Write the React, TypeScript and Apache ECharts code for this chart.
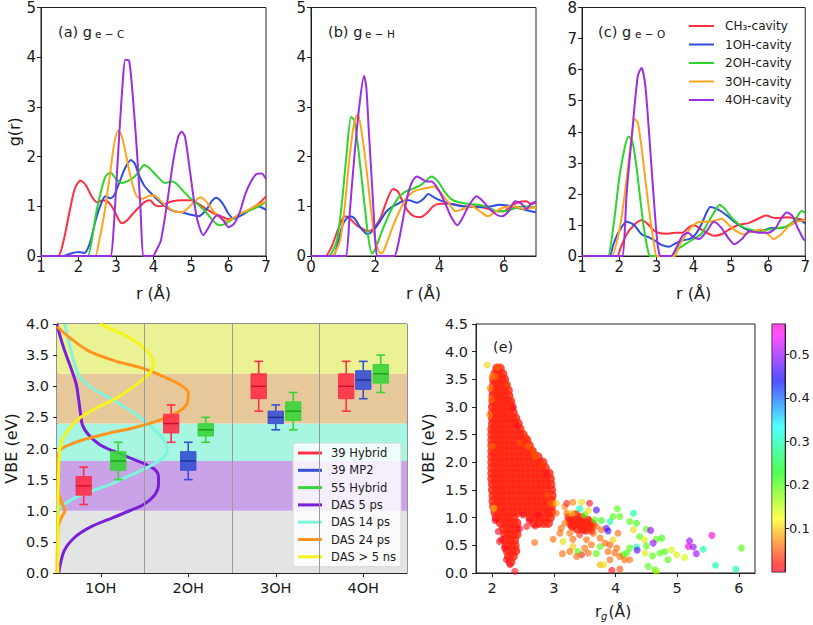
import React, { useEffect, useRef } from 'react';
import * as echarts from 'echarts';

const FONT = 'DejaVu Sans';
const INK = '#1a1a1a';

// ---------- panels (a)-(c): radial distribution functions ----------
const rdfNames = ['CH₃-cavity', '1OH-cavity', '2OH-cavity', '3OH-cavity', '4OH-cavity'];
const rdfColors = ['#ff2e40', '#2f4edb', '#2ed42e', '#ffa41f', '#9b2fe0'];

const geC_CH3 = [[1,0],[1.45,0],[1.6,0.3],[1.75,0.85],[1.9,1.35],[2.05,1.52],[2.2,1.42],[2.35,1.2],[2.5,1.08],[2.65,1.12],[2.8,1.08],[2.95,0.92],[3.15,0.66],[3.3,0.72],[3.45,0.85],[3.6,0.97],[3.75,1.08],[3.9,1.12],[4.05,1.02],[4.2,1.0],[4.35,1.06],[4.5,1.1],[4.75,1.12],[5.0,1.12],[5.2,1.05],[5.4,0.95],[5.6,0.86],[5.8,0.8],[6.0,0.74],[6.2,0.78],[6.4,0.86],[6.6,0.95],[6.8,1.05],[7.0,1.2]];
const geC_1OH = [[1,0],[1.6,0],[1.8,0.05],[2.0,0.08],[2.15,0.06],[2.3,0.25],[2.45,0.7],[2.6,1.05],[2.72,1.2],[2.85,1.16],[2.95,1.22],[3.1,1.5],[3.25,1.78],[3.4,1.93],[3.5,1.86],[3.6,1.65],[3.75,1.42],[3.95,1.25],[4.15,1.1],[4.35,0.98],[4.55,0.9],[4.75,0.88],[5.0,0.83],[5.2,0.8],[5.4,0.92],[5.55,1.1],[5.68,1.17],[5.85,1.05],[6.0,0.85],[6.15,0.75],[6.35,0.82],[6.55,0.92],[6.75,1.0],[6.9,0.97],[7.0,0.93]];
const geC_2OH = [[1,0],[2.2,0],[2.25,0],[2.35,0.3],[2.48,0.9],[2.6,1.3],[2.72,1.6],[2.85,1.68],[3.0,1.55],[3.15,1.47],[3.3,1.5],[3.5,1.6],[3.65,1.75],[3.75,1.83],[3.9,1.76],[4.1,1.6],[4.3,1.47],[4.5,1.5],[4.62,1.45],[4.8,1.3],[5.0,1.15],[5.2,1.03],[5.4,0.88],[5.6,0.7],[5.75,0.62],[5.9,0.64],[6.1,0.74],[6.3,0.84],[6.5,0.9],[6.7,0.96],[6.85,1.02],[7.0,1.1]];
const geC_3OH = [[1,0],[2.4,0],[2.45,0],[2.55,0.3],[2.7,0.9],[2.85,1.7],[2.95,2.25],[3.05,2.52],[3.15,2.42],[3.25,2.1],[3.4,1.55],[3.55,1.2],[3.7,1.15],[3.85,1.2],[4.0,1.22],[4.2,1.1],[4.35,1.0],[4.55,0.9],[4.75,0.88],[4.9,0.95],[5.1,1.1],[5.25,1.18],[5.4,1.1],[5.6,0.9],[5.8,0.75],[5.95,0.7],[6.1,0.75],[6.3,0.85],[6.5,0.92],[6.7,1.0],[6.85,1.05],[7.0,1.1]];
const geC_4OH = [[1,0],[2.84,0],[2.87,0],[2.95,0.7],[3.02,1.6],[3.1,2.6],[3.18,3.5],[3.25,3.95],[3.35,3.93],[3.45,3.2],[3.55,2.2],[3.65,1.0],[3.72,0],[3.75,0],[3.95,0],[3.98,0],[4.1,0.15],[4.2,0.32],[4.35,1.0],[4.53,1.93],[4.66,2.4],[4.75,2.5],[4.84,2.4],[4.97,1.72],[5.15,0.79],[5.33,0.42],[5.45,0.55],[5.6,0.75],[5.7,0.82],[5.85,0.73],[6.0,0.58],[6.15,0.65],[6.3,0.88],[6.45,1.25],[6.6,1.5],[6.75,1.65],[6.88,1.66],[7.0,1.55]];

const geH_CH3 = [[0,0],[0.4,0],[0.45,0],[0.65,0.2],[0.85,0.55],[1.05,0.8],[1.2,0.76],[1.4,0.63],[1.6,0.55],[1.78,0.5],[1.95,0.56],[2.15,0.75],[2.35,1.1],[2.55,1.35],[2.7,1.3],[2.85,1.1],[3.0,0.92],[3.2,0.8],[3.4,0.78],[3.6,0.86],[3.8,1.0],[4.0,1.05],[4.3,1.05],[4.6,1.02],[4.9,0.99],[5.2,1.0],[5.5,0.95],[5.8,0.9],[6.0,0.9],[6.2,1.0],[6.45,1.08],[6.7,1.1],[6.85,1.04],[7.0,1.08]];
const geH_1OH = [[0,0],[0.65,0],[0.7,0],[0.85,0.3],[1.0,0.65],[1.2,0.8],[1.35,0.76],[1.55,0.56],[1.75,0.44],[1.95,0.52],[2.15,0.7],[2.35,0.9],[2.55,1.0],[2.7,1.05],[2.85,1.1],[3.05,1.12],[3.3,1.07],[3.5,1.15],[3.65,1.25],[3.85,1.17],[4.1,1.1],[4.4,1.04],[4.7,1.0],[5.0,0.99],[5.3,0.98],[5.6,1.0],[5.85,1.03],[6.05,1.02],[6.3,0.99],[6.6,0.94],[6.85,0.9],[7.0,0.88]];
const geH_2OH = [[0,0],[0.5,0],[0.55,0],[0.8,0.3],[0.95,1.0],[1.1,2.0],[1.25,2.8],[1.35,2.72],[1.5,2.0],[1.67,1.0],[1.8,0.3],[1.9,0.05],[2.0,0.13],[2.15,0.4],[2.35,0.72],[2.55,1.0],[2.75,1.2],[2.95,1.3],[3.15,1.35],[3.4,1.42],[3.55,1.5],[3.75,1.6],[3.95,1.5],[4.15,1.3],[4.35,1.15],[4.6,1.08],[4.9,1.05],[5.2,1.03],[5.5,0.98],[5.8,0.9],[6.0,0.9],[6.3,0.95],[6.6,1.0],[7.0,0.98]];
const geH_3OH = [[0,0],[0.6,0],[0.65,0],[0.9,0.3],[1.05,1.0],[1.2,2.0],[1.35,2.7],[1.45,2.85],[1.55,2.6],[1.68,2.0],[1.82,1.2],[1.95,0.5],[2.1,0.1],[2.2,0.05],[2.35,0.25],[2.55,0.6],[2.75,0.9],[2.95,1.15],[3.2,1.3],[3.45,1.35],[3.7,1.38],[3.8,1.4],[4.0,1.3],[4.25,1.1],[4.5,0.9],[4.75,0.95],[5.0,1.0],[5.25,0.9],[5.5,0.8],[5.75,0.9],[6.0,0.98],[6.3,1.0],[6.6,0.95],[7.0,0.98]];
const geH_4OH = [[0,0],[1.07,0],[1.1,0],[1.22,1.0],[1.35,2.0],[1.5,3.0],[1.65,3.62],[1.72,3.4],[1.8,2.5],[1.92,1.2],[2.0,0.3],[2.05,0],[2.08,0],[2.57,0],[2.6,0],[2.7,0.2],[2.85,0.7],[3.0,1.2],[3.15,1.5],[3.3,1.6],[3.45,1.55],[3.6,1.5],[3.75,1.5],[3.95,1.35],[4.15,1.1],[4.35,0.8],[4.55,0.62],[4.7,0.75],[4.9,1.0],[5.15,1.2],[5.35,1.1],[5.55,0.95],[5.8,0.82],[5.95,0.8],[6.15,0.9],[6.35,1.1],[6.55,1.05],[6.7,0.95],[6.85,1.05],[7.0,1.1]];

const geO_CH3 = [[1,0],[1.9,0],[1.95,0],[2.05,0.3],[2.2,0.7],[2.4,1.0],[2.6,1.15],[2.75,1.05],[2.9,0.85],[3.05,0.75],[3.3,0.72],[3.5,0.75],[3.7,0.75],[3.85,0.9],[4.0,1.0],[4.15,0.9],[4.35,0.75],[4.55,0.65],[4.75,0.7],[4.95,0.85],[5.2,1.0],[5.45,1.05],[5.65,1.15],[5.95,1.3],[6.2,1.22],[6.5,1.25],[6.8,1.2],[7.0,1.15]];
const geO_1OH = [[1,0],[1.7,0],[1.75,0],[1.85,0.4],[2.0,0.8],[2.2,1.1],[2.4,1.0],[2.6,0.7],[2.8,0.6],[2.95,0.5],[3.15,0.35],[3.35,0.3],[3.5,0.4],[3.7,0.5],[3.9,0.55],[4.05,0.7],[4.2,1.0],[4.35,1.4],[4.45,1.58],[4.65,1.5],[4.9,1.3],[5.1,1.1],[5.35,0.9],[5.6,0.8],[5.85,0.82],[6.1,0.9],[6.35,0.9],[6.6,1.0],[6.85,1.15],[7.0,1.05]];
const geO_2OH = [[1,0],[1.67,0],[1.7,0],[1.85,1.0],[2.0,2.5],[2.15,3.5],[2.25,3.85],[2.35,3.7],[2.45,3.0],[2.55,2.0],[2.65,1.0],[2.75,0.3],[2.82,0],[2.85,0],[3.37,0],[3.4,0],[3.55,0.2],[3.8,0.4],[4.0,0.55],[4.2,0.7],[4.4,1.1],[4.6,1.5],[4.7,1.65],[4.85,1.5],[5.05,1.2],[5.3,0.95],[5.55,0.85],[5.8,0.8],[6.0,0.85],[6.3,0.9],[6.5,0.95],[6.75,1.2],[6.9,1.45],[7.0,1.4]];
const geO_3OH = [[1,0],[1.77,0],[1.8,0],[2.0,0.8],[2.15,2.0],[2.3,3.5],[2.42,4.4],[2.5,4.3],[2.6,3.5],[2.7,2.5],[2.8,1.5],[2.92,0.5],[3.0,0],[3.03,0],[3.47,0],[3.5,0],[3.6,0.3],[3.8,0.7],[4.0,1.0],[4.2,1.1],[4.4,1.1],[4.6,1.15],[4.75,1.2],[4.95,1.0],[5.15,0.8],[5.35,0.7],[5.6,0.8],[5.8,0.85],[6.0,0.7],[6.15,0.55],[6.35,0.7],[6.55,0.95],[6.75,1.1],[7.0,1.15]];
const geO_4OH = [[1,0],[2.07,0],[2.1,0],[2.2,2.0],[2.35,4.0],[2.5,5.8],[2.6,6.05],[2.7,5.5],[2.8,4.0],[2.92,2.0],[3.02,0.5],[3.1,0],[3.13,0],[3.37,0],[3.4,0],[3.55,0.3],[3.7,0.65],[3.85,0.75],[4.0,0.6],[4.15,0.55],[4.35,0.8],[4.55,1.1],[4.75,0.9],[4.95,0.55],[5.1,0.38],[5.3,0.55],[5.5,0.8],[5.75,0.75],[6.0,0.75],[6.2,0.9],[6.35,1.2],[6.5,1.4],[6.65,1.3],[6.8,0.9],[6.95,0.55],[7.0,0.5]];

const rdfPanels = [
  [geC_CH3, geC_1OH, geC_2OH, geC_3OH, geC_4OH],
  [geH_CH3, geH_1OH, geH_2OH, geH_3OH, geH_4OH],
  [geO_CH3, geO_1OH, geO_2OH, geO_3OH, geO_4OH],
];

// ---------- panel (d): VBE box plots and DAS curves ----------
const boxCats = ['1OH', '2OH', '3OH', '4OH'];
const boxNames = ['39 Hybrid', '39 MP2', '55 Hybrid'];
const boxColors = ['#ff2f48', '#3550d4', '#38d438'];
const boxMedian = ['#c8102e', '#1e2f8f', '#1f9a1f'];
// [min, Q1, median, Q3, max] per category (null = absent)
const hybrid39 = [[1.1,1.25,1.4,1.55,1.7],[2.1,2.25,2.4,2.55,2.7],[2.6,2.8,3.0,3.2,3.4],[2.6,2.8,3.0,3.2,3.4]];
const mp239 = [null,[1.5,1.65,1.8,1.95,2.1],[2.3,2.4,2.5,2.6,2.7],[2.8,2.95,3.1,3.25,3.4]];
const hybrid55 = [[1.5,1.65,1.8,1.95,2.1],[2.1,2.2,2.3,2.4,2.5],[2.3,2.45,2.6,2.75,2.9],[2.9,3.05,3.2,3.35,3.5]];
const boxStats = [hybrid39, mp239, hybrid55];
const boxOffsets = [-0.195, 0, 0.2];

const dasNames = ['DAS 5 ps', 'DAS 14 ps', 'DAS 24 ps', 'DAS > 5 ns'];
const dasColors = ['#7a1fd8', '#7ff5de', '#ff951f', '#f4f41e'];
// [intensity (category widths), VBE]
const das5ps = [[0.02,0],[0.08,0.35],[0.2,0.57],[0.37,0.73],[0.64,0.89],[0.83,1.0],[0.99,1.1],[1.12,1.26],[1.16,1.42],[1.16,1.55],[1.12,1.66],[1.02,1.74],[0.83,1.85],[0.64,1.96],[0.49,2.06],[0.36,2.22],[0.29,2.38],[0.27,2.55],[0.25,2.76],[0.22,3.03],[0.16,3.29],[0.09,3.56],[0.03,3.83],[0,4.0]];
const das14ps = [[0,1.0],[0.06,1.08],[0.18,1.19],[0.4,1.32],[0.6,1.42],[0.87,1.59],[1.08,1.73],[1.21,1.85],[1.26,1.98],[1.23,2.12],[1.1,2.32],[0.9,2.55],[0.65,2.77],[0.4,2.97],[0.26,3.15],[0.2,3.36],[0.16,3.58],[0.12,3.8],[0.09,4.0]];
const das24ps = [[0,3.96],[0.145,3.78],[0.37,3.56],[0.68,3.4],[0.98,3.29],[1.21,3.16],[1.4,3.03],[1.5,2.9],[1.49,2.74],[1.4,2.6],[1.18,2.46],[0.87,2.33],[0.6,2.25],[0.3,2.14],[0.11,2.04],[0.03,1.96],[0.01,1.8],[0.01,1.42],[0.02,1.26],[0.07,1.08],[0.09,1.0],[0.05,0.89],[0.015,0.75],[0.005,0.46],[0,0]];
const das5ns = [[0.49,4.0],[0.76,3.83],[0.95,3.67],[1.06,3.51],[1.1,3.37],[1.06,3.21],[0.91,3.03],[0.68,2.81],[0.45,2.65],[0.26,2.49],[0.145,2.33],[0.07,2.17],[0.03,1.96],[0.02,1.69],[0.01,1.16],[0.01,0]];
const dasCurves = [das5ps, das14ps, das24ps, das5ns];

const bandEdges = [0, 1.0, 1.8, 2.4, 3.2, 4.0];
const bandColors = ['#e3e5e4', '#c9a2e8', '#a6f6e1', '#e7c89b', '#ebf293'];
const categoryBorders = [1, 2, 3];

// ---------- panel (e): VBE vs radius of gyration ----------
// dense cluster rows: [VBE, r_g values]
const blobRows: [number, number[]][] = [
  [3.7,[2.08,2.13]],
  [3.6,[2.05,2.11,2.17]],
  [3.5,[2.03,2.09,2.15,2.20]],
  [3.4,[2.03,2.09,2.15,2.22]],
  [3.3,[2.02,2.08,2.14,2.20,2.26]],
  [3.2,[2.02,2.08,2.14,2.20,2.27]],
  [3.1,[2.02,2.08,2.14,2.20,2.26,2.30]],
  [3.0,[2.01,2.07,2.13,2.19,2.25,2.32]],
  [2.9,[2.01,2.07,2.13,2.19,2.26,2.34]],
  [2.8,[2.01,2.07,2.13,2.19,2.26,2.33,2.38]],
  [2.7,[2.01,2.07,2.13,2.20,2.28,2.36,2.42]],
  [2.6,[2.00,2.06,2.13,2.20,2.28,2.36,2.45]],
  [2.5,[2.00,2.06,2.13,2.20,2.28,2.36,2.44,2.50]],
  [2.4,[2.00,2.06,2.13,2.20,2.28,2.36,2.44,2.52,2.56]],
  [2.3,[2.00,2.06,2.13,2.20,2.28,2.36,2.44,2.52,2.60]],
  [2.2,[2.00,2.06,2.13,2.20,2.28,2.36,2.44,2.52,2.60,2.65]],
  [2.1,[2.00,2.06,2.13,2.20,2.28,2.36,2.44,2.52,2.60,2.68,2.74]],
  [2.0,[2.00,2.06,2.13,2.20,2.28,2.36,2.44,2.52,2.60,2.68,2.76,2.82]],
  [1.9,[2.00,2.07,2.14,2.22,2.30,2.38,2.46,2.54,2.62,2.70,2.78,2.86]],
  [1.8,[2.00,2.07,2.14,2.22,2.30,2.38,2.46,2.54,2.62,2.70,2.78,2.86,2.92]],
  [1.7,[2.00,2.07,2.14,2.22,2.30,2.38,2.46,2.54,2.62,2.70,2.78,2.86,2.94]],
  [1.6,[2.01,2.08,2.15,2.23,2.31,2.39,2.47,2.55,2.63,2.71,2.79,2.87,2.95]],
  [1.5,[2.01,2.08,2.15,2.23,2.31,2.39,2.47,2.55,2.63,2.71,2.79,2.87,2.96]],
  [1.4,[2.02,2.09,2.16,2.24,2.32,2.40,2.48,2.56,2.64,2.72,2.80,2.88,2.97]],
  [1.3,[2.02,2.09,2.16,2.24,2.32,2.40,2.48,2.56,2.64,2.72,2.80,2.88,2.96]],
  [1.2,[2.03,2.10,2.17,2.25,2.33,2.41,2.49,2.57,2.65,2.73,2.81,2.89,2.96]],
  [1.1,[2.05,2.12,2.19,2.26,2.34,2.42,2.50,2.58,2.66,2.74,2.82,2.90,2.96]],
  [1.0,[2.07,2.14,2.21,2.28,2.35,2.62,2.70,2.78,2.86,2.94]],
  [0.9,[2.14,2.21,2.28,2.35,2.40,2.68,2.76,2.84,2.91]],
  [0.8,[2.19,2.26,2.33,2.39]],
  [0.7,[2.21,2.28,2.35,2.40]],
  [0.6,[2.22,2.29,2.36]],
  [0.5,[2.23,2.30,2.37]],
  [0.4,[2.25,2.32,2.38]],
  [0.3,[2.27,2.34]],
  [0.2,[2.30]],
];
const blobDelocalization = 0.025;
// individual points: [r_g, VBE, delocalization]
const scatterPoints = [
  [1.92,3.76,0.11],[1.97,3.34,0.07],[1.99,3.13,0.06],[1.96,2.86,0.07],[2.0,2.29,0.06],[2.03,1.17,0.1],
  [2.34,2.98,0.01],[2.42,2.65,0.01],[2.58,2.29,0.06],[2.66,2.2,0.05],[2.88,1.78,0.01],[2.56,0.84,0.01],[2.69,0.55,0.06],[2.12,0.57,0.01],[2.23,0.24,0.01],[2.37,0.03,0.01],[2.29,0.15,0.01],
  [2.05,0.95,0.005],[2.1,0.75,0.005],[2.15,0.6,0.005],[2.2,0.45,0.005],[2.45,0.8,0.005],[2.5,1.05,0.01],[2.6,0.95,0.005],[2.7,0.85,0.01],[2.75,1.05,0.005],[2.55,2.45,0.04],[2.45,2.35,0.05],[2.7,2.1,0.06],[2.8,1.95,0.04],[2.9,1.4,0.05],[2.95,1.25,0.06],[2.25,3.4,0.04],[2.05,3.55,0.06],[2.1,3.72,0.06],[2.0,3.55,0.07],
  [2.99,0.61,0.06],[3.04,1.26,0.1],[3.15,0.57,0.12],[3.14,0.35,0.06],[3.18,1.2,0.07],[3.21,1.26,0.02],[3.31,1.28,0.07],[3.45,1.28,0.12],[3.58,1.26,0.01],[3.69,1.14,0.47],[3.42,1.16,0.3],[3.5,1.05,0.2],[3.56,1.13,0.12],[3.66,0.96,0.2],[3.77,0.95,0.22],[3.91,0.93,0.3],[4.03,1.16,0.2],[3.96,1.02,0.2],[4.07,1.02,0.2],[4.29,1.08,0.3],[4.23,0.93,0.2],[4.34,0.9,0.21],[4.29,0.78,0.12],[3.85,0.81,0.47],[3.88,0.76,0.46],[4.5,0.79,0.2],[4.57,0.77,0.5],[4.39,0.66,0.2],[4.47,0.6,0.13],[4.66,0.61,0.2],[4.75,0.63,0.21],[4.61,0.54,0.5],[4.5,0.49,0.2],[4.34,0.47,0.3],[4.35,0.41,0.48],[4.23,0.45,0.2],[4.18,0.36,0.21],[4.12,0.33,0.2],[4.48,0.36,0.13],[4.6,0.31,0.2],[4.72,0.36,0.2],[4.8,0.39,0.2],[4.91,0.42,0.13],[4.99,0.33,0.13],[4.85,0.24,0.2],[5.12,0.28,0.14],[5.2,0.58,0.5],[5.18,0.48,0.55],[5.26,0.47,0.5],[5.31,0.35,0.5],[5.42,0.43,0.3],[5.56,0.68,0.56],[5.62,0.14,0.3],[5.95,0.07,0.3],[6.04,0.45,0.2],[4.53,0.12,0.2],[4.64,0.06,0.2],[4.66,0.03,0.16],[3.75,0.15,0.09],[3.81,0.15,0.12],[3.91,0.24,0.06],[3.94,0.05,0.01],[4.07,0.07,0.05],[4.07,0.3,0.06],[3.75,0.48,0.2],[3.69,0.35,0.2],[3.61,0.51,0.06],[3.45,0.33,0.02],[3.39,0.39,0.2],[3.37,0.3,0.06],
  [3.26,0.72,0.06],[3.31,0.61,0.06],[3.42,0.69,0.03],[3.53,0.6,0.06],[3.64,0.72,0.06],[3.75,0.63,0.06],[3.83,0.54,0.06],[3.91,0.51,0.05],[4.02,0.45,0.06],[3.96,0.6,0.11],[4.04,0.72,0.06],[3.77,0.78,0.06],[3.69,0.84,0.06],[3.61,0.75,0.03],[3.45,0.78,0.02],[3.31,0.84,0.02],[3.26,0.96,0.02],[3.21,1.08,0.06],[3.29,1.08,0.11],[3.12,0.81,0.06],[3.1,0.72,0.06],[3.18,0.9,0.06],[3.04,1.08,0.06],[3.88,0.39,0.06],[3.99,0.36,0.06],[4.15,0.24,0.06],[4.23,0.24,0.06],[3.56,0.36,0.06],[3.5,0.45,0.06],[3.31,0.48,0.11],[3.26,0.39,0.06],
];
// dense red cluster near r_g ≈ 3.4
const cluster2 = [[3.25,1.0],[3.3,0.95],[3.35,0.9],[3.4,0.95],[3.45,1.0],[3.5,0.92],[3.55,0.85],[3.6,0.82],[3.3,0.85],[3.38,0.8],[3.45,0.85],[3.52,0.78],[3.58,0.9],[3.35,1.05],[3.42,0.88],[3.48,0.8],[3.28,0.9],[3.55,0.95],[3.62,0.88]];
const rgTicks = [2, 3, 4, 5, 6];
const colorbarTicks = [0.1, 0.2, 0.3, 0.4, 0.5];
const colorMax = 0.57;
const rainbowStops: [number, string][] = [[0,'#ff0029'],[0.03,'#ff0000'],[0.215,'#ffff00'],[0.4,'#00ff00'],[0.586,'#00ffff'],[0.77,'#0000ff'],[0.954,'#ff00ff'],[1,'#ff00bf']];
const rainbowSamples = ['#ff0029','#ff4a00','#ffbc00','#cfff00','#5cff00','#00ff17','#00ff89','#00fffb','#008fff','#001cff','#5800ff','#cb00ff','#ff00bf'];

function axisBase(extra: any) {
  return {
    axisLine: { show: true, onZero: false, lineStyle: { color: '#222', width: 1 } },
    axisTick: { show: true, length: 4, lineStyle: { color: '#222' } },
    splitLine: { show: false },
    nameTextStyle: { color: INK, fontFamily: FONT, fontSize: 16 },
    ...extra,
    axisLabel: { color: INK, fontFamily: FONT, fontSize: 15, margin: 5, ...(extra.axisLabel || {}) },
  };
}

export default function App() {
  const ref = useRef<HTMLDivElement>(null);
  useEffect(() => {
    document.body.style.margin = '0';
    if (!ref.current) return;
    const chart = echarts.init(ref.current, null, { renderer: 'svg' });

    const gridStyle = { show: true, borderColor: '#222', borderWidth: 1, backgroundColor: 'transparent' };
    const grid = [
      { left: 41, top: 7, width: 225, height: 249, ...gridStyle },
      { left: 311, top: 7, width: 225, height: 249, ...gridStyle },
      { left: 582, top: 7, width: 224, height: 249, ...gridStyle },
      { left: 57, top: 324, width: 350, height: 249, ...gridStyle },
      { left: 476, top: 324, width: 279, height: 249, ...gridStyle },
      { left: 772, top: 324, width: 13, height: 248, ...gridStyle },
    ];

    const rName = { name: 'r (Å)', nameLocation: 'middle', nameGap: 29 };
    const xAxis = [
      axisBase({ gridIndex: 0, type: 'value', min: 1, max: 7, interval: 1, ...rName, axisLabel: { margin: 3 } }),
      axisBase({ gridIndex: 1, type: 'value', min: 0, max: 7, interval: 2, ...rName, axisLabel: { margin: 3, showMaxLabel: false } }),
      axisBase({ gridIndex: 2, type: 'value', min: 1, max: 7, interval: 1, ...rName, axisLabel: { margin: 3 } }),
      axisBase({ gridIndex: 3, type: 'category', data: boxCats, axisTick: { show: true, alignWithLabel: true, length: 4, lineStyle: { color: '#222' } }, axisLabel: { fontSize: 14.5, margin: 7 } }),
      { gridIndex: 3, type: 'value', min: 0, max: 4, show: false },
      axisBase({ gridIndex: 4, type: 'value', min: 1.74, max: 6.26,
        axisTick: { show: true, length: 4, lineStyle: { color: '#222' }, customValues: rgTicks },
        axisLabel: { fontSize: 14.5, margin: 7, customValues: rgTicks } }),
      { gridIndex: 5, type: 'category', data: ['c'], show: false },
    ];
    const yAxis = [
      axisBase({ gridIndex: 0, type: 'value', min: 0, max: 5, interval: 1, name: 'g(r)', nameLocation: 'middle', nameGap: 19 }),
      axisBase({ gridIndex: 1, type: 'value', min: 0, max: 5, interval: 1 }),
      axisBase({ gridIndex: 2, type: 'value', min: 0, max: 8, interval: 1, axisLabel: { margin: 5 } }),
      axisBase({ gridIndex: 3, type: 'value', min: 0, max: 4, interval: 0.5, name: 'VBE (eV)', nameLocation: 'middle', nameGap: 38,
        axisLabel: { fontSize: 14.5, margin: 8, formatter: (v: number) => v.toFixed(1) } }),
      axisBase({ gridIndex: 4, type: 'value', min: 0, max: 4.5, interval: 0.5, name: 'VBE (eV)', nameLocation: 'middle', nameGap: 40,
        axisLabel: { fontSize: 14.5, margin: 8, formatter: (v: number) => v.toFixed(1) } }),
      axisBase({ gridIndex: 5, type: 'value', position: 'right', min: 0, max: colorMax,
        axisTick: { show: true, length: 4, lineStyle: { color: '#222' }, customValues: colorbarTicks },
        axisLabel: { fontSize: 13, margin: 4, customValues: colorbarTicks, formatter: (v: number) => v.toFixed(1) } }),
    ];

    const series: any[] = [];
    rdfPanels.forEach((panel, p) => {
      panel.forEach((data, i) => {
        series.push({
          name: rdfNames[i], type: 'line', xAxisIndex: p, yAxisIndex: p, data,
          smooth: 0.25, symbol: 'none', showSymbol: false, color: rdfColors[i],
          lineStyle: { color: rdfColors[i], width: 2 }, itemStyle: { color: rdfColors[i] }, z: 2,
        });
      });
    });

    dasCurves.forEach((data, i) => {
      const s: any = {
        name: dasNames[i], type: 'line', xAxisIndex: 4, yAxisIndex: 3, data,
        smooth: 0.3, symbol: 'none', showSymbol: false, color: dasColors[i],
        lineStyle: { color: dasColors[i], width: 3 }, itemStyle: { color: dasColors[i] }, z: 3,
      };
      if (i === 0) {
        s.markArea = {
          silent: true,
          data: bandColors.map((c, k) => [
            { yAxis: bandEdges[k], itemStyle: { color: c, opacity: 1 } },
            { yAxis: bandEdges[k + 1] },
          ]),
        };
        s.markLine = {
          silent: true, symbol: ['none', 'none'], label: { show: false },
          lineStyle: { color: '#9a9a9a', width: 1, type: 'solid' },
          data: categoryBorders.map((b) => ({ xAxis: b })),
        };
      }
      series.push(s);
    });

    boxStats.forEach((stats, si) => {
      const color = boxColors[si];
      const dark = boxMedian[si];
      const off = boxOffsets[si];
      const data = stats.map((st, ci) => (st ? [ci, ...st] : null)).filter(Boolean);
      series.push({
        name: boxNames[si], type: 'custom', xAxisIndex: 3, yAxisIndex: 3, data,
        encode: { x: 0, y: [1, 2, 3, 4, 5] }, itemStyle: { color }, color, z: 4,
        renderItem: (params: any, api: any) => {
          const ci = api.value(0);
          const bw = api.size([1, 0])[0];
          const p = (k: number) => api.coord([ci, api.value(k)]);
          const cx = p(1)[0] + off * bw;
          const yLo = p(1)[1], yQ1 = p(2)[1], yMd = p(3)[1], yQ3 = p(4)[1], yHi = p(5)[1];
          const half = bw * 0.088;
          const cap = bw * 0.05;
          const ws = { stroke: color, lineWidth: 1.6 };
          return {
            type: 'group',
            children: [
              { type: 'line', shape: { x1: cx, y1: yLo, x2: cx, y2: yQ1 }, style: ws },
              { type: 'line', shape: { x1: cx, y1: yQ3, x2: cx, y2: yHi }, style: ws },
              { type: 'line', shape: { x1: cx - cap, y1: yLo, x2: cx + cap, y2: yLo }, style: ws },
              { type: 'line', shape: { x1: cx - cap, y1: yHi, x2: cx + cap, y2: yHi }, style: ws },
              { type: 'rect', shape: { x: cx - half, y: yQ3, width: half * 2, height: yQ1 - yQ3 },
                style: { fill: color, stroke: color, lineWidth: 1, opacity: 0.9 } },
              { type: 'line', shape: { x1: cx - half, y1: yMd, x2: cx + half, y2: yMd }, style: { stroke: dark, lineWidth: 1.4 } },
            ],
          };
        },
      });
    });

    const blobData: number[][] = [];
    blobRows.forEach(([y, xs]) => xs.forEach((x) => blobData.push([x, y, blobDelocalization])));
    cluster2.forEach(([x, y]) => blobData.push([x, y, blobDelocalization]));
    const scatterIndex = series.length;
    series.push({
      name: 'rg-dense', type: 'scatter', xAxisIndex: 5, yAxisIndex: 4, data: blobData,
      symbolSize: 9.5, itemStyle: { opacity: 0.82 }, z: 2, silent: true,
    });
    series.push({
      name: 'rg', type: 'scatter', xAxisIndex: 5, yAxisIndex: 4, data: scatterPoints,
      symbolSize: 7, itemStyle: { opacity: 0.62 }, z: 3, silent: true,
    });
    series.push({
      name: 'colorbar', type: 'bar', xAxisIndex: 6, yAxisIndex: 5, data: [colorMax], barWidth: '100%', silent: true,
      itemStyle: {
        opacity: 0.68,
        color: new echarts.graphic.LinearGradient(0, 1, 0, 0, rainbowStops.map(([o, c]) => ({ offset: o, color: c }))),
      },
    });

    const txt = (x: number, y: number, text: string, fontSize: number, extra: any = {}) => ({
      type: 'text', x, y, silent: true,
      style: { text, fontSize, fontFamily: FONT, fill: INK, verticalAlign: 'middle', ...extra },
    });

    const option: any = {
      animation: false,
      textStyle: { fontFamily: FONT },
      grid, xAxis, yAxis, series,
      visualMap: [{ type: 'continuous', show: false, seriesIndex: [scatterIndex, scatterIndex + 1], dimension: 2, min: 0, max: colorMax, inRange: { color: rainbowSamples } }],
      legend: [
        {
          data: rdfNames, left: 689, top: 19, orient: 'vertical', icon: 'rect', itemWidth: 25, itemHeight: 2,
          itemGap: 4.5, padding: 0, selectedMode: false,
          textStyle: { fontSize: 12, fontFamily: FONT, color: INK, lineHeight: 14, padding: [0, 0, 0, 6] },
        },
        {
          data: [...boxNames, ...dasNames], left: 293, top: 443, orient: 'vertical', icon: 'rect', itemWidth: 24, itemHeight: 3,
          itemGap: 3.3, padding: [3, 5, 3, 5], selectedMode: false,
          backgroundColor: 'rgba(255,255,255,0.82)', borderColor: '#d6d6d6', borderWidth: 1, borderRadius: 3,
          textStyle: { fontSize: 11.5, fontFamily: FONT, color: INK, lineHeight: 14, padding: [0, 0, 0, 4] },
        },
      ],
      graphic: [
        txt(58, 31.5, '(a) g', 14.5), txt(95, 34, 'e − C', 10.5),
        txt(328, 31.5, '(b) g', 14.5), txt(365, 34, 'e − H', 10.5),
        txt(598, 31.5, '(c) g', 14.5), txt(635, 34, 'e − O', 10.5),
        txt(80, 338, '(d)', 14.5),
        txt(493, 347, '(e)', 14.5),
        txt(595, 612, 'r', 15.5), txt(601, 616, 'g', 10, { fontStyle: 'italic' }), txt(608.5, 612, '(Å)', 15.5),
      ],
    };
    chart.setOption(option);
    return () => chart.dispose();
  }, []);
  return <div ref={ref} style={{ width: 813, height: 625 }} />;
}
